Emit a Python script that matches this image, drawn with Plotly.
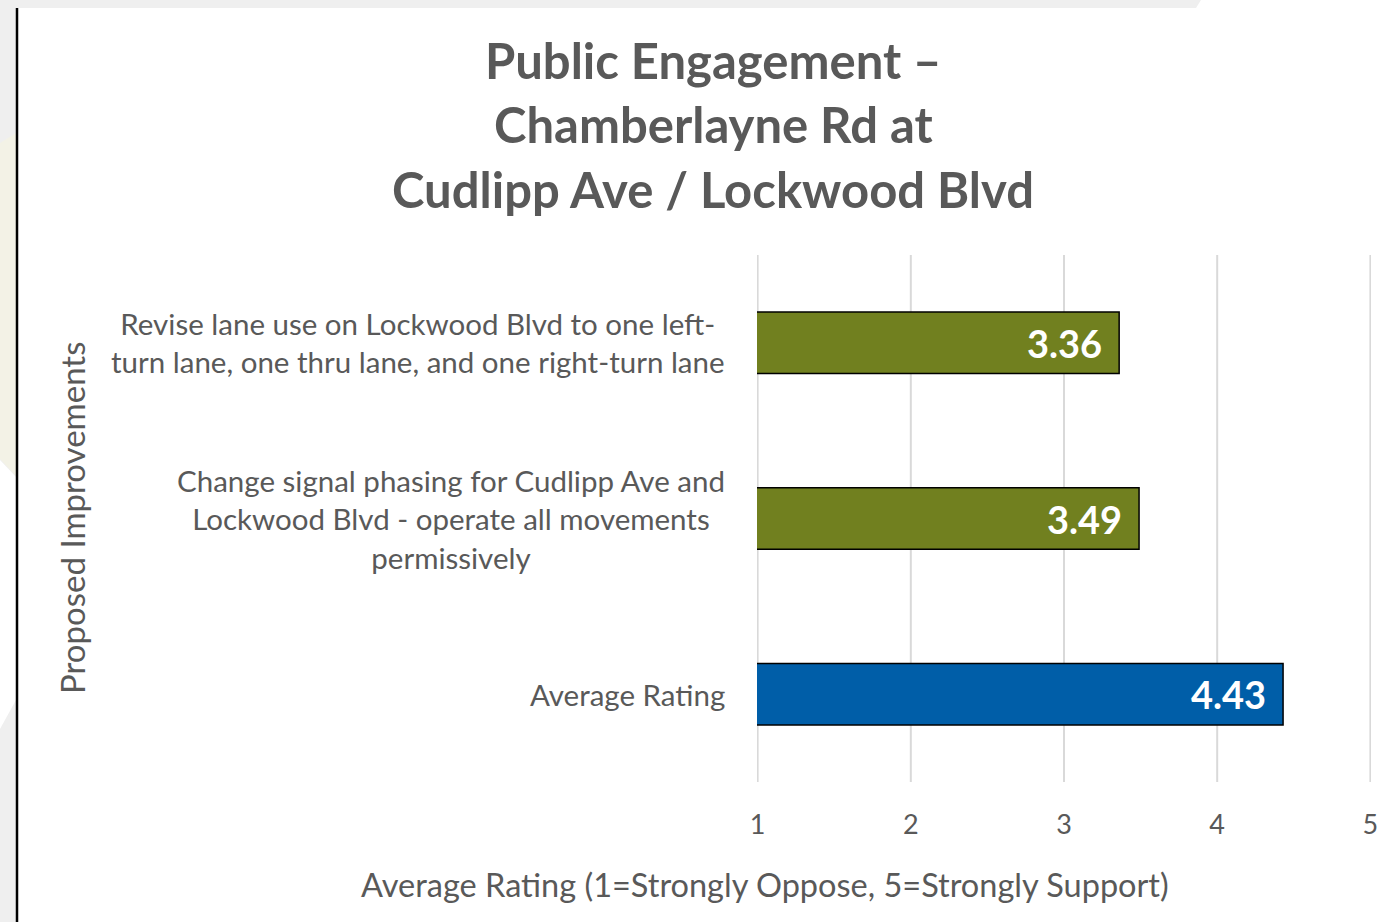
import plotly.graph_objects as go

# ---- data ----
categories = [
    "Revise lane use on Lockwood Blvd to one left-<br>turn lane, one thru lane, and one right-turn lane",
    "Change signal phasing for Cudlipp Ave and<br>Lockwood Blvd - operate all movements<br>permissively",
    "Average Rating",
]
ratings = [3.36, 3.49, 4.43]
bar_colors = ["#71801F", "#71801F", "#005EA8"]
x_ticks = [1, 2, 3, 4, 5]
title_lines = ["Public Engagement \u2013", "Chamberlayne Rd at", "Cudlipp Ave / Lockwood Blvd"]
x_title = "Average Rating (1=Strongly Oppose, 5=Strongly Support)"
y_title = "Proposed Improvements"

W, H = 1391, 922
L, R, T, B = 757, 1371, 255, 782   # plot area in pixels
TEXT = "#595959"
FONT = "Lato"


def px(x):
    return (x - L) / (R - L)


def py(y):
    return (B - y) / (B - T)


fig = go.Figure()

fig.add_trace(go.Bar(
    y=categories,
    x=ratings,
    orientation="h",
    width=0.35,
    marker=dict(color=bar_colors, line=dict(color="black", width=1.5)),
    hoverinfo="x+y",
))

annotations = []

# value labels inside bar ends
for cat, v in zip(categories, ratings):
    annotations.append(dict(
        x=v, y=cat, xref="x", yref="y", text=f"{v:.2f}",
        xanchor="right", yanchor="middle", xshift=-15, showarrow=False,
        font=dict(family=FONT, size=38, color="white", weight="bold"),
    ))

# category labels (centred multi-line blocks left of the plot)
for cat in categories:
    annotations.append(dict(
        x=0, y=cat, xref="paper", yref="y", text=cat,
        xanchor="right", yanchor="middle", align="center", xshift=-30,
        showarrow=False,
        font=dict(family=FONT, size=29.5, color=TEXT),
    ))

# title
for line, yc in zip(title_lines, [60, 124, 189]):
    annotations.append(dict(
        x=px(713), y=py(yc), xref="paper", yref="paper", text=line,
        xanchor="center", yanchor="middle", showarrow=False,
        font=dict(family=FONT, size=49, color=TEXT, weight="bold"),
    ))

# axis titles
annotations.append(dict(
    x=px(765), y=py(884), xref="paper", yref="paper", text=x_title,
    xanchor="center", yanchor="middle", showarrow=False,
    font=dict(family=FONT, size=32.5, color=TEXT),
))
annotations.append(dict(
    x=px(72), y=py(518), xref="paper", yref="paper", text=y_title,
    textangle=-90, xanchor="center", yanchor="middle", showarrow=False,
    font=dict(family=FONT, size=33, color=TEXT),
))

# vertical gridlines (drawn as shapes so the edge ones at 1 and 5 show too)
shapes = [
    dict(type="line", xref="x", yref="paper", layer="below",
         x0=t, x1=t, y0=0, y1=1, line=dict(color="#D9D9D9", width=2))
    for t in x_ticks
]

# background decorations of the slide
shapes += [
    dict(type="path", xref="paper", yref="paper", layer="below",
         path=f"M {px(0)},{py(0)} L {px(1201)},{py(0)} L {px(1196)},{py(8)} L {px(0)},{py(8)} Z",
         fillcolor="#EFEFEF", line=dict(width=0)),
    dict(type="rect", xref="paper", yref="paper", layer="below",
         x0=px(0), x1=px(16), y0=py(8), y1=py(922),
         fillcolor="#EFEFEF", line=dict(width=0)),
    dict(type="path", xref="paper", yref="paper", layer="below",
         path=f"M {px(0)},{py(143)} L {px(16)},{py(133)} L {px(16)},{py(476)} L {px(0)},{py(459)} Z",
         fillcolor="#F3F2E6", line=dict(width=0)),
    dict(type="path", xref="paper", yref="paper", layer="below",
         path=f"M {px(0)},{py(460)} L {px(16)},{py(477)} L {px(16)},{py(700)} L {px(0)},{py(729)} Z",
         fillcolor="#FFFFFF", line=dict(width=0)),
    dict(type="line", xref="paper", yref="paper",
         x0=px(17), x1=px(17), y0=py(8), y1=py(922),
         line=dict(color="black", width=2.5)),
]

fig.update_layout(
    width=W, height=H,
    margin=dict(l=L, r=W - R, t=T, b=H - B, pad=0),
    paper_bgcolor="white", plot_bgcolor="white",
    showlegend=False,
    annotations=annotations,
    shapes=shapes,
    font=dict(family=FONT, color=TEXT),
)
fig.update_xaxes(
    range=[0.996, 5.004], tickvals=x_ticks, showgrid=False,
    zeroline=False, showline=False, ticks="",
    tickfont=dict(family=FONT, size=27, color=TEXT), ticklabelstandoff=24,
)
fig.update_yaxes(
    autorange="reversed", showticklabels=False, showgrid=False, zeroline=False,
    showline=False, ticks="",
)

fig.write_html(
    "out.html",
    config={"displayModeBar": False},
    post_script="document.body.style.margin='0';document.body.style.overflow='hidden';",
)
